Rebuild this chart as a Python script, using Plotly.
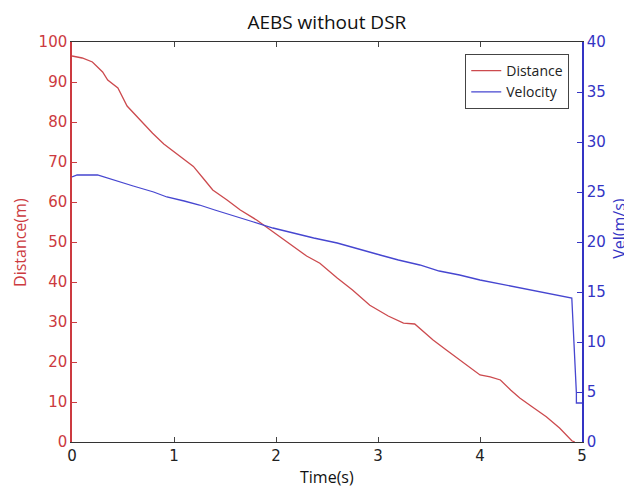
import plotly.graph_objects as go

time_d = [0, 0.1, 0.2, 0.3, 0.35, 0.45, 0.54, 0.65, 0.79, 0.9, 1.06, 1.19, 1.3, 1.38, 1.52,
          1.65, 1.81, 1.97, 2.17, 2.3, 2.43, 2.6, 2.75, 2.92, 3.1, 3.25, 3.36, 3.45, 3.54,
          3.67, 3.8, 3.9, 4.0, 4.1, 4.2, 4.3, 4.39, 4.5, 4.65, 4.78, 4.9, 4.93]
distance = [96.5, 96, 95, 92.5, 90.5, 88.5, 84, 81, 77.2, 74.5, 71.4, 68.9, 65.5, 63, 60.5,
            58, 55.5, 52.5, 48.8, 46.5, 44.7, 41, 38, 34.2, 31.5, 29.7, 29.5, 27.5, 25.5,
            23, 20.5, 18.5, 16.75, 16.3, 15.5, 13, 11, 9, 6.3, 3.5, 0.3, 0]

time_v = [0, 0.05, 0.25, 0.4, 0.6, 0.8, 0.93, 1.1, 1.25, 1.4, 1.58, 1.78, 1.97, 2.2, 2.37,
          2.6, 2.8, 3.02, 3.2, 3.41, 3.6, 3.8, 4.0, 4.2, 4.39, 4.55, 4.72, 4.9, 4.945,
          4.945, 5.0]
velocity = [26.5, 26.7, 26.7, 26.2, 25.6, 25.0, 24.5, 24.1, 23.7, 23.2, 22.6, 22.0, 21.4, 20.8,
            20.4, 19.9, 19.3, 18.7, 18.2, 17.7, 17.1, 16.7, 16.2, 15.8, 15.4, 15.1, 14.8, 14.4,
            4.9, 3.9, 3.9]

x_ticks = [0, 1, 2, 3, 4, 5]
left_ticks = [0, 10, 20, 30, 40, 50, 60, 70, 80, 90, 100]
right_ticks = [0, 5, 10, 15, 20, 25, 30, 35, 40]

RED = "#cc3a40"
BLUE = "#3434c4"
FONT = "Open Sans"
TICKFONT = "DejaVu Sans"

fig = go.Figure()
fig.add_trace(go.Scatter(x=time_d, y=distance, mode="lines", name="Distance",
                         line=dict(color="#cc4a4e", width=1.3)))
fig.add_trace(go.Scatter(x=time_v, y=velocity, mode="lines", name="Velocity",
                         line=dict(color="#4646d0", width=1.3), yaxis="y2"))

fig.update_layout(
    width=624, height=482,
    margin=dict(l=64, r=50, t=34, b=48, autoexpand=False),
    paper_bgcolor="white", plot_bgcolor="white",
    font=dict(family=FONT, size=14, color="#222"),
    title=dict(text="AEBS without DSR", x=0.511, xanchor="center", y=0.971, yanchor="middle",
               font=dict(family=FONT, size=19, color="#111")),
    showlegend=True,
    legend=dict(x=0.975, y=0.97, xanchor="right", yanchor="top",
                bgcolor="white", bordercolor="#444", borderwidth=1,
                font=dict(family=FONT, size=14, color="#222"),
                tracegroupgap=0, itemwidth=30),
    xaxis=dict(range=[0, 5], tickvals=x_ticks, ticks="inside", ticklen=5,
               showline=True, linecolor="#333", linewidth=1, mirror="ticks",
               showgrid=False, zeroline=False, automargin=False,
               tickfont=dict(family=TICKFONT, size=15, color="#222")),
    yaxis=dict(range=[0, 100], tickvals=left_ticks, ticks="inside", ticklen=5,
               tickcolor=RED, showline=True, linecolor=RED, linewidth=1.5,
               showgrid=False, zeroline=False, automargin=False,
               tickfont=dict(family=TICKFONT, size=15, color=RED)),
    yaxis2=dict(range=[0, 40], tickvals=right_ticks, ticks="inside", ticklen=5,
                tickcolor=BLUE, showline=True, linecolor=BLUE, linewidth=1.5,
                overlaying="y", side="right", showgrid=False, zeroline=False, automargin=False,
                tickfont=dict(family=TICKFONT, size=15, color=BLUE)),
    annotations=[
        dict(text="Distance(m)", xref="paper", yref="paper", x=-0.102, y=0.5,
             xanchor="center", yanchor="middle", textangle=-90, showarrow=False,
             font=dict(family=FONT, size=16, color=RED)),
        dict(text="Vel(m/s)", xref="paper", yref="paper", x=1.072, y=0.535,
             xanchor="center", yanchor="middle", textangle=-90, showarrow=False,
             font=dict(family=FONT, size=16, color=BLUE)),
        dict(text="Time(s)", xref="paper", yref="paper", x=0.5, y=-0.087,
             xanchor="center", yanchor="middle", showarrow=False,
             font=dict(family=FONT, size=16, color="#111")),
    ],
)

fig.write_html("out.html")
